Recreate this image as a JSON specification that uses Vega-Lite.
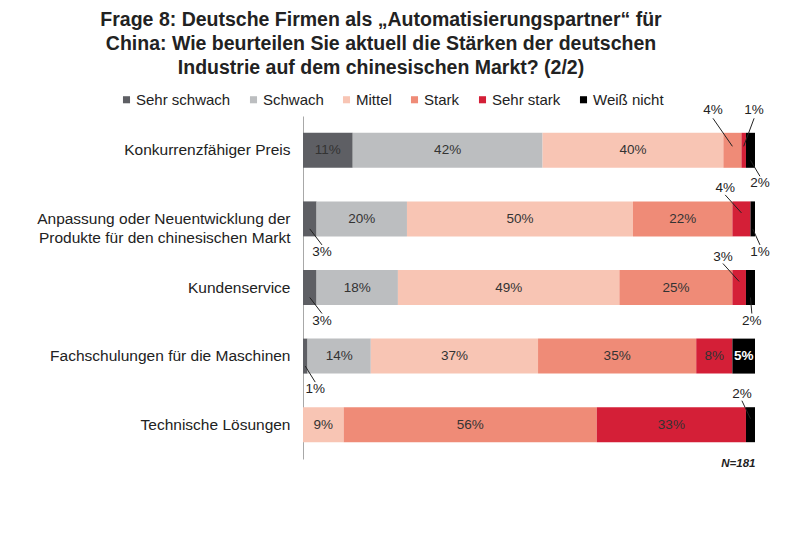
{
  "$schema": "https://vega.github.io/schema/vega-lite/v6.json",
  "width": 452,
  "height": 343,
  "autosize": {"type": "none"},
  "padding": {"left": 303, "top": 116, "right": 45, "bottom": 83},
  "background": "white",
  "config": {
    "view": {"stroke": null},
    "font": "Liberation Sans",
    "axisX": {"grid": false, "labels": false, "ticks": false, "domain": false, "titleAnchor": "end", "titleFontStyle": "italic", "titleFontWeight": "bold", "titleFontSize": 11.5, "titleColor": "#222", "titlePadding": -2}
  },
  "title": {
    "text": ["Frage 8: Deutsche Firmen als „Automatisierungspartner“ für", "China: Wie beurteilen Sie aktuell die Stärken der deutschen", "Industrie auf dem chinesischen Markt? (2/2)"],
    "fontSize": 19.5,
    "fontWeight": "bold",
    "color": "#222",
    "lineHeight": 24,
    "anchor": "middle",
    "frame": "group",
    "dx": -148,
    "offset": 14
  },
  "datasets": {
    "beschriftung": [
      {"schluessel": "Konkurrenzfähiger Preis / Stark", "lx": 90.7, "lage": "hoch"},
      {"schluessel": "Konkurrenzfähiger Preis / Sehr stark", "lx": 99.8, "lage": "hoch"},
      {"schluessel": "Konkurrenzfähiger Preis / Weiß nicht", "lx": 101.1, "lage": "unten"},
      {"schluessel": "Anpassung oder Neuentwicklung der\nProdukte für den chinesischen Markt / Sehr schwach", "lx": 4.2, "lage": "unten"},
      {"schluessel": "Anpassung oder Neuentwicklung der\nProdukte für den chinesischen Markt / Sehr stark", "lx": 93.4, "lage": "oben"},
      {"schluessel": "Anpassung oder Neuentwicklung der\nProdukte für den chinesischen Markt / Weiß nicht", "lx": 101.1, "lage": "unten"},
      {"schluessel": "Kundenservice / Sehr schwach", "lx": 4.2, "lage": "unten"},
      {"schluessel": "Kundenservice / Sehr stark", "lx": 92.9, "lage": "oben"},
      {"schluessel": "Kundenservice / Weiß nicht", "lx": 99.3, "lage": "unten"},
      {"schluessel": "Fachschulungen für die Maschinen / Sehr schwach", "lx": 2.7, "lage": "unten"},
      {"schluessel": "Technische Lösungen / Weiß nicht", "lx": 97.1, "lage": "oben"}
    ]
  },
  "data": {
    "values": [
      {"Kategorie": "Konkurrenzfähiger Preis", "Bewertung": "Sehr schwach", "Anteil": 11},
      {"Kategorie": "Konkurrenzfähiger Preis", "Bewertung": "Schwach", "Anteil": 42},
      {"Kategorie": "Konkurrenzfähiger Preis", "Bewertung": "Mittel", "Anteil": 40},
      {"Kategorie": "Konkurrenzfähiger Preis", "Bewertung": "Stark", "Anteil": 4},
      {"Kategorie": "Konkurrenzfähiger Preis", "Bewertung": "Sehr stark", "Anteil": 1},
      {"Kategorie": "Konkurrenzfähiger Preis", "Bewertung": "Weiß nicht", "Anteil": 2},
      {"Kategorie": "Anpassung oder Neuentwicklung der\nProdukte für den chinesischen Markt", "Bewertung": "Sehr schwach", "Anteil": 3},
      {"Kategorie": "Anpassung oder Neuentwicklung der\nProdukte für den chinesischen Markt", "Bewertung": "Schwach", "Anteil": 20},
      {"Kategorie": "Anpassung oder Neuentwicklung der\nProdukte für den chinesischen Markt", "Bewertung": "Mittel", "Anteil": 50},
      {"Kategorie": "Anpassung oder Neuentwicklung der\nProdukte für den chinesischen Markt", "Bewertung": "Stark", "Anteil": 22},
      {"Kategorie": "Anpassung oder Neuentwicklung der\nProdukte für den chinesischen Markt", "Bewertung": "Sehr stark", "Anteil": 4},
      {"Kategorie": "Anpassung oder Neuentwicklung der\nProdukte für den chinesischen Markt", "Bewertung": "Weiß nicht", "Anteil": 1},
      {"Kategorie": "Kundenservice", "Bewertung": "Sehr schwach", "Anteil": 3},
      {"Kategorie": "Kundenservice", "Bewertung": "Schwach", "Anteil": 18},
      {"Kategorie": "Kundenservice", "Bewertung": "Mittel", "Anteil": 49},
      {"Kategorie": "Kundenservice", "Bewertung": "Stark", "Anteil": 25},
      {"Kategorie": "Kundenservice", "Bewertung": "Sehr stark", "Anteil": 3},
      {"Kategorie": "Kundenservice", "Bewertung": "Weiß nicht", "Anteil": 2},
      {"Kategorie": "Fachschulungen für die Maschinen", "Bewertung": "Sehr schwach", "Anteil": 1},
      {"Kategorie": "Fachschulungen für die Maschinen", "Bewertung": "Schwach", "Anteil": 14},
      {"Kategorie": "Fachschulungen für die Maschinen", "Bewertung": "Mittel", "Anteil": 37},
      {"Kategorie": "Fachschulungen für die Maschinen", "Bewertung": "Stark", "Anteil": 35},
      {"Kategorie": "Fachschulungen für die Maschinen", "Bewertung": "Sehr stark", "Anteil": 8},
      {"Kategorie": "Fachschulungen für die Maschinen", "Bewertung": "Weiß nicht", "Anteil": 5},
      {"Kategorie": "Technische Lösungen", "Bewertung": "Mittel", "Anteil": 9},
      {"Kategorie": "Technische Lösungen", "Bewertung": "Stark", "Anteil": 56},
      {"Kategorie": "Technische Lösungen", "Bewertung": "Sehr stark", "Anteil": 33},
      {"Kategorie": "Technische Lösungen", "Bewertung": "Weiß nicht", "Anteil": 2}
    ]
  },
  "transform": [
    {"calculate": "indexof(['Sehr schwach', 'Schwach', 'Mittel', 'Stark', 'Sehr stark', 'Weiß nicht'], datum.Bewertung)", "as": "Rang"},
    {"stack": "Anteil", "groupby": ["Kategorie"], "sort": [{"field": "Rang", "order": "ascending"}], "as": ["von", "bis"]},
    {"calculate": "(datum.von + datum.bis) / 2", "as": "mitte"},
    {"calculate": "datum.Anteil + '%'", "as": "Prozent"},
    {"calculate": "datum.Kategorie + ' / ' + datum.Bewertung", "as": "schluessel"},
    {"lookup": "schluessel", "from": {"data": {"name": "beschriftung"}, "key": "schluessel", "fields": ["lx", "lage"]}}
  ],
  "encoding": {
    "y": {
      "field": "Kategorie",
      "type": "nominal",
      "sort": ["Konkurrenzfähiger Preis", "Anpassung oder Neuentwicklung der\nProdukte für den chinesischen Markt", "Kundenservice", "Fachschulungen für die Maschinen", "Technische Lösungen"],
      "scale": {"paddingInner": 0.49, "paddingOuter": 0.245},
      "axis": {
        "title": null,
        "ticks": false,
        "domainColor": "#a8a8a8",
        "domainWidth": 1,
        "labelFontSize": 15.5,
        "labelColor": "#222",
        "labelPadding": 13,
        "labelLimit": 320,
        "labelLineHeight": 19,
        "labelExpr": "split(datum.label, '\\n')"
      }
    }
  },
  "layer": [
    {
      "mark": {"type": "bar"},
      "encoding": {
        "x": {"field": "von", "type": "quantitative", "scale": {"domain": [0, 100]}, "title": "N=181"},
        "x2": {"field": "bis"},
        "color": {
          "field": "Bewertung",
          "type": "nominal",
          "scale": {
            "domain": ["Sehr schwach", "Schwach", "Mittel", "Stark", "Sehr stark", "Weiß nicht"],
            "range": ["#5e5f64", "#bcbec0", "#f8c5b4", "#ef8b77", "#d41f37", "#000000"]
          },
          "legend": {
            "orient": "none",
            "legendX": -184,
            "legendY": -24,
            "direction": "horizontal",
            "title": null,
            "symbolType": "square",
            "symbolSize": 50,
            "symbolStrokeWidth": 0,
            "labelFontSize": 15,
            "labelColor": "#222",
            "labelOffset": 2,
            "columnPadding": 15,
            "padding": 0
          }
        }
      }
    },
    {
      "transform": [{"filter": "datum.Anteil >= 5 && datum.Bewertung != 'Weiß nicht'"}],
      "mark": {"type": "text", "fontSize": 13.5, "color": "#333", "baseline": "middle"},
      "encoding": {
        "x": {"field": "mitte", "type": "quantitative", "title": "N=181"},
        "text": {"field": "Prozent"}
      }
    },
    {
      "transform": [{"filter": "datum.Anteil >= 5 && datum.Bewertung == 'Weiß nicht'"}],
      "mark": {"type": "text", "fontSize": 13.5, "fontWeight": "bold", "color": "white", "baseline": "middle"},
      "encoding": {
        "x": {"field": "mitte", "type": "quantitative", "title": "N=181"},
        "text": {"field": "Prozent"}
      }
    },
    {
      "transform": [{"filter": "datum.lage == 'hoch'"}],
      "mark": {"type": "rule", "color": "#222", "strokeWidth": 1, "yOffset": -4, "y2Offset": -32},
      "encoding": {
        "x": {"field": "mitte", "type": "quantitative", "title": "N=181"},
        "x2": {"field": "lx"},
        "y2": {"field": "Kategorie"}
      }
    },
    {
      "transform": [{"filter": "datum.lage == 'oben'"}],
      "mark": {"type": "rule", "color": "#222", "strokeWidth": 1, "yOffset": -6, "y2Offset": -24},
      "encoding": {
        "x": {"field": "mitte", "type": "quantitative", "title": "N=181"},
        "x2": {"field": "lx"},
        "y2": {"field": "Kategorie"}
      }
    },
    {
      "transform": [{"filter": "datum.lage == 'unten'"}],
      "mark": {"type": "rule", "color": "#222", "strokeWidth": 1, "yOffset": 10, "y2Offset": 26},
      "encoding": {
        "x": {"field": "mitte", "type": "quantitative", "title": "N=181"},
        "x2": {"field": "lx"},
        "y2": {"field": "Kategorie"}
      }
    },
    {
      "transform": [{"filter": "datum.lage == 'hoch'"}],
      "mark": {"type": "text", "fontSize": 13.5, "color": "#222", "baseline": "middle", "dy": -40},
      "encoding": {
        "x": {"field": "lx", "type": "quantitative", "title": "N=181"},
        "text": {"field": "Prozent"}
      }
    },
    {
      "transform": [{"filter": "datum.lage == 'oben'"}],
      "mark": {"type": "text", "fontSize": 13.5, "color": "#222", "baseline": "middle", "dy": -31},
      "encoding": {
        "x": {"field": "lx", "type": "quantitative", "title": "N=181"},
        "text": {"field": "Prozent"}
      }
    },
    {
      "transform": [{"filter": "datum.lage == 'unten'"}],
      "mark": {"type": "text", "fontSize": 13.5, "color": "#222", "baseline": "middle", "dy": 33},
      "encoding": {
        "x": {"field": "lx", "type": "quantitative", "title": "N=181"},
        "text": {"field": "Prozent"}
      }
    }
  ]
}
